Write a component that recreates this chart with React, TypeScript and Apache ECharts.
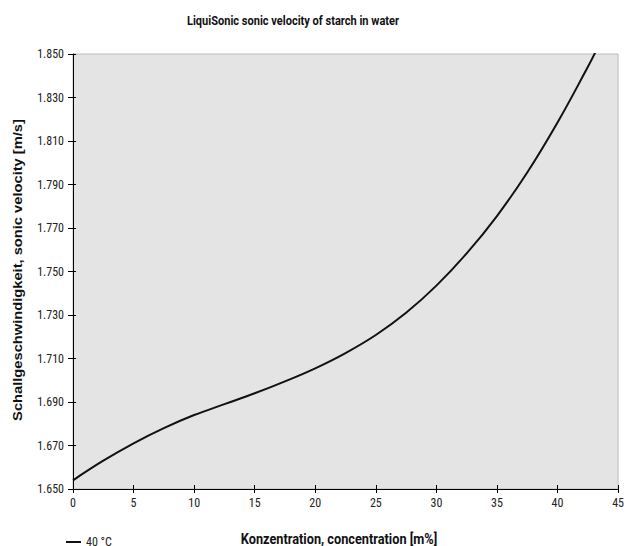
import React, { useEffect, useRef } from "react";
import * as echarts from "echarts";

const concentration = [0, 2.5, 5, 7.5, 10, 12.5, 15, 17.5, 20, 22.5, 25, 27.5, 30, 32.5, 35, 37.5, 40, 42.5, 43.1];
const velocity = [1.654, 1.663, 1.671, 1.678, 1.684, 1.689, 1.694, 1.6995, 1.7055, 1.7125, 1.7208, 1.731, 1.7435, 1.7583, 1.7755, 1.7955, 1.8185, 1.844, 1.8505];
const seriesName = "40 °C";
const titleText = "LiquiSonic sonic velocity of starch in water";
const xTitle = "Konzentration, concentration [m%]";
const yTitle = "Schallgeschwindigkeit, sonic velocity [m/s]";

const COND = "'Roboto Condensed', 'Liberation Sans Narrow', 'DejaVu Sans Condensed', 'Arial Narrow', Roboto, sans-serif";

export default function App() {
  const ref = useRef<HTMLDivElement>(null);
  useEffect(() => {
    if (!ref.current) return;
    const chart = echarts.init(ref.current, undefined, { renderer: "svg" });
    const data = concentration.map((c, i) => [c, velocity[i]]);
    const xBase = { type: "value", min: 0, max: 45, interval: 5, splitLine: { show: false } };
    const yBase = { type: "value", min: 1.65, max: 1.85, interval: 0.02, splitLine: { show: false } };
    chart.setOption({
      animation: false,
      backgroundColor: "#ffffff",
      grid: {
        left: 73,
        right: 7,
        top: 54,
        bottom: 57,
        show: true,
        backgroundColor: "#e4e4e4",
        borderColor: "#bdbdbd",
        borderWidth: 1,
      },
      legend: {
        left: 61,
        top: 531,
        padding: 5,
        data: [seriesName],
        icon: "rect",
        itemWidth: 15,
        itemHeight: 2,
        itemGap: 2,
        textStyle: { fontFamily: COND, fontSize: 12, color: "#222" },
      },
      xAxis: [
        {
          ...xBase,
          position: "bottom",
          axisLine: { show: true, lineStyle: { color: "#000", width: 1 } },
          axisTick: { show: true, length: 4, lineStyle: { color: "#000" } },
          axisLabel: {
            margin: 8,
            fontFamily: COND,
            fontSize: 12,
            color: "#222",
          },
        },
        {
          ...xBase,
          position: "bottom",
          axisLine: { show: false },
          axisTick: { show: true, inside: true, length: 4, lineStyle: { color: "#000" } },
          axisLabel: { show: false },
        },
      ],
      yAxis: [
        {
          ...yBase,
          position: "left",
          axisLine: { show: true, lineStyle: { color: "#000", width: 1 } },
          axisTick: { show: true, length: 5, lineStyle: { color: "#000" } },
          axisLabel: {
            margin: 9,
            fontFamily: COND,
            fontSize: 12,
            color: "#222",
            formatter: (v: number) => v.toFixed(3),
          },
        },
        {
          ...yBase,
          position: "left",
          axisLine: { show: false },
          axisTick: { show: true, inside: true, length: 3, lineStyle: { color: "#000" } },
          axisLabel: { show: false },
        },
      ],
      series: [
        {
          name: seriesName,
          type: "line",
          xAxisIndex: 0,
          yAxisIndex: 0,
          data,
          smooth: 0.4,
          showSymbol: false,
          clip: true,
          lineStyle: { color: "#111", width: 2 },
          itemStyle: { color: "#111" },
        },
      ],
      graphic: [
        {
          type: "text",
          x: 293,
          y: 21,
          scaleX: 0.85,
          style: {
            text: titleText,
            align: "center",
            verticalAlign: "middle",
            fontFamily: "Roboto",
            fontWeight: "bold",
            fontSize: 13,
            fill: "#111",
          },
        },
        {
          type: "text",
          x: 339,
          y: 539,
          scaleX: 0.85,
          style: {
            text: xTitle,
            align: "center",
            verticalAlign: "middle",
            fontFamily: "Roboto",
            fontWeight: "bold",
            fontSize: 15,
            fill: "#111",
          },
        },
        {
          type: "text",
          x: 17,
          y: 270,
          rotation: Math.PI / 2,
          scaleX: 1.13,
          style: {
            text: yTitle,
            align: "center",
            verticalAlign: "middle",
            fontFamily: "Liberation Sans, Arial, Helvetica, sans-serif",
            fontWeight: "bold",
            fontSize: 13,
            fill: "#111",
          },
        },
      ],
    });
    return () => chart.dispose();
  }, []);
  return (
    <div
      ref={ref}
      style={{ position: "fixed", left: 0, top: 0, width: 627, height: 546 }}
    />
  );
}
